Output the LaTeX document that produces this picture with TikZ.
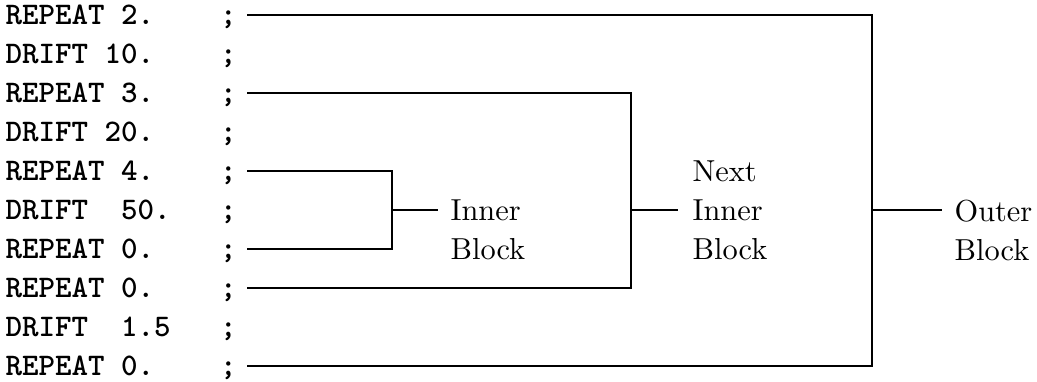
\documentclass[tikz,border=0pt]{standalone}
\usepackage{tikz}
\tikzset{
  listing row/.style={
    anchor=west,
    inner sep=1pt,
    outer xsep=2.5pt,
    text height=6.3pt,
    text depth=0pt,
    font=\ttfamily\bfseries\fontsize{10.35}{12}\selectfont
  },
  block label/.style={
    anchor=north west,
    inner sep=0pt,
    align=left,
    font=\fontsize{10}{12.84}\selectfont
  },
  bracket line/.style={
    semithick,
    line join=miter
  }
}

\begin{document}
\begin{tikzpicture}

    \useasboundingbox (0,0) rectangle (12,4.409);

    % ---------- listing lines ----------
    \foreach \n/\txt in {
      1/{REPEAT~2.~~~~;},
      2/{DRIFT~10.~~~~;},
      3/{REPEAT~3.~~~~;},
      4/{DRIFT~20.~~~~;},
      5/{REPEAT~4.~~~~;},
      6/{DRIFT~~50.~~~;},
      7/{REPEAT~0.~~~~;},
      8/{REPEAT~0.~~~~;},
      9/{DRIFT~~1.5~~~;},
      10/{REPEAT~0.~~~~;}
    }{
      \node[listing row] (r\n) at (-0.059,{4.235-(\n-1)*0.4513}) {\txt};
    }

    % ---------- block labels ----------
    \node[block label] (inner) at (5.207,2.099) {Inner\\Block};
    \node[block label] (next) at (8.008,2.550) {Next\\Inner\\Block};
    \node[block label] (outer) at (11.040,2.099) {Outer\\Block};

    % ---------- junctions and stub ends ----------
    \coordinate (inner join) at (4.536,1.9785);
    \coordinate (next join) at (7.302,1.9785);
    \coordinate (outer join) at (10.091,1.9785);

    \coordinate (inner tip) at (5.069,1.9785);
    \coordinate (next tip) at (7.846,1.9785);
    \coordinate (outer tip) at (10.901,1.9785);

    % ---------- brackets ----------
    % inner block: lines 5 to 7
    \draw[bracket line] (r5.east) -| (inner join) |- (r7.east);
    \draw[bracket line] (inner join) -- (inner tip);

    % next inner block: lines 3 to 8
    \draw[bracket line] (r3.east) -| (next join) |- (r8.east);
    \draw[bracket line] (next join) -- (next tip);

    % outer block: lines 1 to 10
    \draw[bracket line] (r1.east) -| (outer join) |- (r10.east);
    \draw[bracket line] (outer join) -- (outer tip);

\end{tikzpicture}
\end{document}
